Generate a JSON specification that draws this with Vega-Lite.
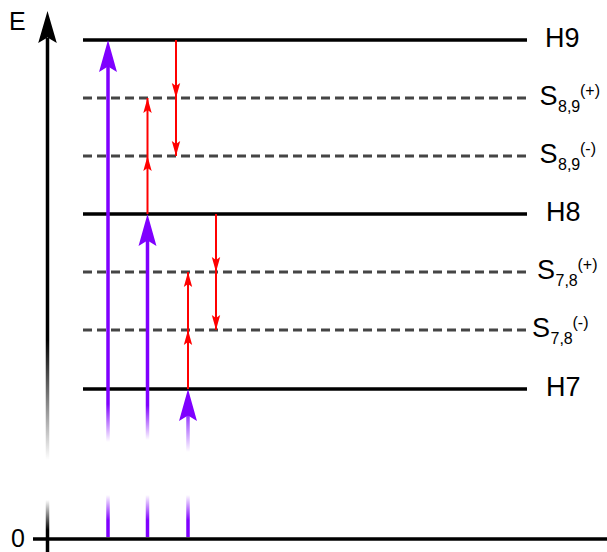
{
  "$schema": "https://vega.github.io/schema/vega-lite/v6.json",
  "width": 607,
  "height": 552,
  "padding": 0,
  "autosize": {"type": "none"},
  "background": "white",
  "view": {"stroke": null},
  "config": {"axis": {"disable": true}},
  "datasets": {
    "levels": [
      {"name": "H9", "x": 83, "x2": 527, "E": 499, "kind": "H"},
      {"name": "S89+", "x": 83, "x2": 527, "E": 441, "kind": "S"},
      {"name": "S89-", "x": 83, "x2": 527, "E": 383, "kind": "S"},
      {"name": "H8", "x": 83, "x2": 527, "E": 325, "kind": "H"},
      {"name": "S78+", "x": 83, "x2": 527, "E": 267, "kind": "S"},
      {"name": "S78-", "x": 83, "x2": 527, "E": 209, "kind": "S"},
      {"name": "H7", "x": 83, "x2": 527, "E": 150, "kind": "H"},
      {"name": "zero", "x": 33, "x2": 607, "E": 0, "kind": "zero"}
    ],
    "segs": [
      {"grp": "Eup", "x": 47.5, "E": 501, "E2": 79},
      {"grp": "Elo", "x": 47.5, "E": 39, "E2": -13},
      {"grp": "P1", "x": 108, "E": 477, "E2": 97},
      {"grp": "P2", "x": 147.5, "E": 303, "E2": 99},
      {"grp": "P3", "x": 188, "E": 128, "E2": 87},
      {"grp": "low", "x": 108, "E": 44, "E2": 2},
      {"grp": "low", "x": 147.5, "E": 44, "E2": 2},
      {"grp": "low", "x": 188, "E": 44, "E2": 2}
    ],
    "reds": [
      {"x": 147.5, "E": 325, "E2": 441},
      {"x": 188, "E": 150, "E2": 267},
      {"x": 176, "E": 499, "E2": 383},
      {"x": 216, "E": 325, "E2": 209}
    ],
    "heads": [
      {"kind": "purple", "x": 108, "E": 499},
      {"kind": "purple", "x": 147.5, "E": 325},
      {"kind": "purple", "x": 188, "E": 150},
      {"kind": "black", "x": 47.5, "E": 528},
      {"kind": "redup", "x": 147.5, "E": 383},
      {"kind": "redup", "x": 147.5, "E": 441},
      {"kind": "redup", "x": 188, "E": 209},
      {"kind": "redup", "x": 188, "E": 267},
      {"kind": "reddown", "x": 176, "E": 441},
      {"kind": "reddown", "x": 176, "E": 383},
      {"kind": "reddown", "x": 216, "E": 267},
      {"kind": "reddown", "x": 216, "E": 209}
    ],
    "labels": [
      {"x": 545, "E": 499, "t": "H9"},
      {"x": 539.5, "E": 441, "t": "S", "sub": "8,9", "sup": "(+)"},
      {"x": 539.5, "E": 383, "t": "S", "sub": "8,9", "sup": "(-)"},
      {"x": 546, "E": 325, "t": "H8"},
      {"x": 537, "E": 267, "t": "S", "sub": "7,8", "sup": "(+)"},
      {"x": 532, "E": 209, "t": "S", "sub": "7,8", "sup": "(-)"},
      {"x": 546, "E": 150, "t": "H7"}
    ],
    "axislabels": [
      {"x": 9, "E": 517, "t": "E"},
      {"x": 11, "E": 0, "t": "0"}
    ]
  },
  "encoding": {
    "x": {"field": "x", "type": "quantitative", "scale": {"domain": [0, 607], "nice": false, "zero": false, "padding": 0}},
    "y": {"field": "E", "type": "quantitative", "scale": {"domain": [-13, 539], "nice": false, "zero": false, "padding": 0}}
  },
  "layer": [
    {
      "data": {"name": "levels"},
      "transform": [{"filter": "datum.kind == 'S'"}],
      "mark": {"type": "rule", "color": "#454545", "strokeWidth": 3.2, "strokeDash": [9, 5]},
      "encoding": {"x2": {"field": "x2"}}
    },
    {
      "data": {"name": "levels"},
      "transform": [{"filter": "datum.kind == 'H'"}],
      "mark": {"type": "rule", "color": "#000000", "strokeWidth": 3.3},
      "encoding": {"x2": {"field": "x2"}}
    },
    {
      "data": {"name": "segs"},
      "transform": [{"filter": "datum.grp == 'Eup'"}],
      "mark": {"type": "bar", "width": 3.5, "color": {"gradient": "linear", "x1": 0, "y1": 0, "x2": 0, "y2": 1, "stops": [{"offset": 0, "color": "#000000"}, {"offset": 0.716, "color": "#000000"}, {"offset": 1, "color": "#ffffff"}]}},
      "encoding": {"y2": {"field": "E2"}}
    },
    {
      "data": {"name": "segs"},
      "transform": [{"filter": "datum.grp == 'Elo'"}],
      "mark": {"type": "bar", "width": 3.5, "color": {"gradient": "linear", "x1": 0, "y1": 0, "x2": 0, "y2": 1, "stops": [{"offset": 0, "color": "#ffffff"}, {"offset": 0.58, "color": "#000000"}, {"offset": 1, "color": "#000000"}]}},
      "encoding": {"y2": {"field": "E2"}}
    },
    {
      "data": {"name": "segs"},
      "transform": [{"filter": "datum.grp == 'P1'"}],
      "mark": {"type": "bar", "width": 3.5, "color": {"gradient": "linear", "x1": 0, "y1": 0, "x2": 0, "y2": 1, "stops": [{"offset": 0, "color": "#7f00ff"}, {"offset": 0.9, "color": "#7f00ff"}, {"offset": 1, "color": "#ffffff"}]}},
      "encoding": {"y2": {"field": "E2"}}
    },
    {
      "data": {"name": "segs"},
      "transform": [{"filter": "datum.grp == 'P2'"}],
      "mark": {"type": "bar", "width": 3.5, "color": {"gradient": "linear", "x1": 0, "y1": 0, "x2": 0, "y2": 1, "stops": [{"offset": 0, "color": "#7f00ff"}, {"offset": 0.83, "color": "#7f00ff"}, {"offset": 1, "color": "#ffffff"}]}},
      "encoding": {"y2": {"field": "E2"}}
    },
    {
      "data": {"name": "segs"},
      "transform": [{"filter": "datum.grp == 'P3'"}],
      "mark": {"type": "bar", "width": 3.5, "color": {"gradient": "linear", "x1": 0, "y1": 0, "x2": 0, "y2": 1, "stops": [{"offset": 0, "color": "#7f00ff"}, {"offset": 0.15, "color": "#9a40ff"}, {"offset": 1, "color": "#ffffff"}]}},
      "encoding": {"y2": {"field": "E2"}}
    },
    {
      "data": {"name": "segs"},
      "transform": [{"filter": "datum.grp == 'low'"}],
      "mark": {"type": "bar", "width": 3.5, "color": {"gradient": "linear", "x1": 0, "y1": 0, "x2": 0, "y2": 1, "stops": [{"offset": 0, "color": "#ffffff"}, {"offset": 0.6, "color": "#7f00ff"}, {"offset": 1, "color": "#7f00ff"}]}},
      "encoding": {"y2": {"field": "E2"}}
    },
    {
      "data": {"name": "levels"},
      "transform": [{"filter": "datum.kind == 'zero'"}],
      "mark": {"type": "rule", "color": "#000000", "strokeWidth": 3.5},
      "encoding": {"x2": {"field": "x2"}}
    },
    {
      "data": {"name": "reds"},
      "mark": {"type": "rule", "color": "#ff0000", "strokeWidth": 2},
      "encoding": {"y2": {"field": "E2"}}
    },
    {
      "data": {"name": "heads"},
      "transform": [{"filter": "datum.kind == 'purple'"}],
      "mark": {"type": "point", "shape": "M0,0 L0.56,2 L0,1.65 L-0.56,2 Z", "size": 1024, "filled": true, "color": "#7f00ff", "opacity": 1, "strokeWidth": 0}
    },
    {
      "data": {"name": "heads"},
      "transform": [{"filter": "datum.kind == 'black'"}],
      "mark": {"type": "point", "shape": "M0,0 L0.58,2 L0,1.65 L-0.58,2 Z", "size": 1024, "filled": true, "color": "#000000", "opacity": 1, "strokeWidth": 0}
    },
    {
      "data": {"name": "heads"},
      "transform": [{"filter": "datum.kind == 'redup'"}],
      "mark": {"type": "point", "shape": "M0,0 L0.56,2 L0,1.6 L-0.56,2 Z", "size": 225, "filled": true, "color": "#ff0000", "opacity": 1, "strokeWidth": 0}
    },
    {
      "data": {"name": "heads"},
      "transform": [{"filter": "datum.kind == 'reddown'"}],
      "mark": {"type": "point", "shape": "M0,0 L0.56,-2 L0,-1.6 L-0.56,-2 Z", "size": 225, "filled": true, "color": "#ff0000", "opacity": 1, "strokeWidth": 0}
    },
    {
      "data": {"name": "labels"},
      "mark": {"type": "text", "font": "Liberation Sans", "fontSize": 27, "align": "left", "baseline": "alphabetic", "dy": 7, "color": "#000000"},
      "encoding": {"text": {"field": "t"}}
    },
    {
      "data": {"name": "labels"},
      "transform": [{"filter": "datum.sub"}],
      "mark": {"type": "text", "font": "Liberation Sans", "fontSize": 16, "align": "left", "baseline": "alphabetic", "dx": 18.5, "dy": 14, "color": "#000000"},
      "encoding": {"text": {"field": "sub"}}
    },
    {
      "data": {"name": "labels"},
      "transform": [{"filter": "datum.sup"}],
      "mark": {"type": "text", "font": "Liberation Sans", "fontSize": 16, "align": "left", "baseline": "alphabetic", "dx": 40.5, "dy": -2, "color": "#000000"},
      "encoding": {"text": {"field": "sup"}}
    },
    {
      "data": {"name": "axislabels"},
      "mark": {"type": "text", "font": "Liberation Sans", "fontSize": 25, "align": "left", "baseline": "alphabetic", "dy": 8, "color": "#000000"},
      "encoding": {"text": {"field": "t"}}
    }
  ]
}
